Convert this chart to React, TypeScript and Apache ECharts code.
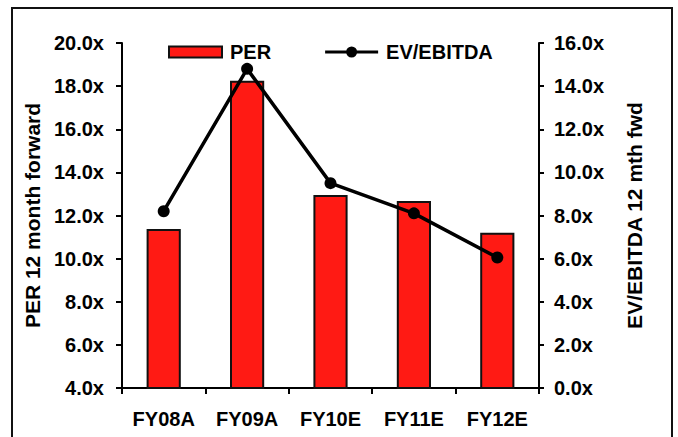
import React, { useEffect, useRef } from "react";
import * as echarts from "echarts";

const categories = ["FY08A", "FY09A", "FY10E", "FY11E", "FY12E"];
const perValues = [11.37, 18.25, 12.95, 12.67, 11.2];
const evEbitdaValues = [8.2, 14.8, 9.5, 8.1, 6.05];

const FONT = "'Liberation Sans', Arial, sans-serif";
const LINE_ICON =
  "path://M0,4L53,4L53,7L0,7Z M21,5.5A5.5,5.5 0 1,1 32,5.5A5.5,5.5 0 1,1 21,5.5Z";

export default function App() {
  const ref = useRef<HTMLDivElement>(null);
  useEffect(() => {
    document.body.style.margin = "0";
    if (!ref.current) return;
    const chart = echarts.init(ref.current, null, { renderer: "svg" });
    const fmt = (v: number) => v.toFixed(1) + "x";
    const labelStyle = {
      color: "#000",
      fontWeight: "bold" as const,
      fontSize: 20,
      fontFamily: FONT,
    };
    chart.setOption({
      animation: false,
      backgroundColor: "#fff",
      textStyle: { fontFamily: FONT },
      graphic: [
        {
          type: "rect",
          shape: { x: 12, y: 8, width: 660, height: 440 },
          style: { fill: "none", stroke: "#111", lineWidth: 2 },
          z: 0,
          silent: true,
        },
      ],
      grid: { left: 122, right: 139, top: 43, bottom: 49 },
      legend: {
        left: 168,
        top: 42,
        padding: 0,
        itemWidth: 53,
        itemHeight: 11,
        itemGap: 54,
        textStyle: {
          color: "#000",
          fontWeight: "bold",
          fontSize: 20,
          fontFamily: FONT,
          padding: [0, 0, 0, 3],
        },
        data: [
          { name: "PER", icon: "rect" },
          { name: "EV/EBITDA", icon: LINE_ICON, itemStyle: { color: "#000", borderWidth: 0 } },
        ],
      },
      xAxis: {
        type: "category",
        data: categories,
        boundaryGap: true,
        axisLine: { lineStyle: { color: "#000", width: 2 } },
        axisTick: { show: true, alignWithLabel: false, length: 6, lineStyle: { color: "#000", width: 2 } },
        axisLabel: { ...labelStyle, margin: 21, interval: 0 },
        splitLine: { show: false },
      },
      yAxis: [
        {
          type: "value",
          min: 4,
          max: 20,
          interval: 2,
          position: "left",
          name: "PER 12 month forward",
          nameLocation: "middle",
          nameRotate: 90,
          nameGap: 78,
          nameTextStyle: { ...labelStyle, fontSize: 21 },
          axisLine: { show: true, lineStyle: { color: "#000", width: 2 } },
          axisTick: { show: true, length: 6, lineStyle: { color: "#000", width: 2 } },
          axisLabel: { ...labelStyle, margin: 18, formatter: fmt },
          splitLine: { show: false },
        },
        {
          type: "value",
          min: 0,
          max: 16,
          interval: 2,
          position: "right",
          name: "EV/EBITDA 12 mth fwd",
          nameLocation: "middle",
          nameRotate: 90,
          nameGap: 85,
          nameTextStyle: { ...labelStyle, fontSize: 21 },
          axisLine: { show: true, lineStyle: { color: "#000", width: 2 } },
          axisTick: { show: true, length: 5, lineStyle: { color: "#000", width: 2 } },
          axisLabel: { ...labelStyle, margin: 15, formatter: fmt },
          splitLine: { show: false },
        },
      ],
      series: [
        {
          name: "PER",
          type: "bar",
          yAxisIndex: 0,
          data: perValues,
          barWidth: "41%",
          itemStyle: { color: "#FF1A14", borderColor: "#111", borderWidth: 2 },
        },
        {
          name: "EV/EBITDA",
          type: "line",
          yAxisIndex: 1,
          data: evEbitdaValues,
          symbol: "circle",
          symbolSize: 12,
          lineStyle: { color: "#000", width: 3.5 },
          itemStyle: { color: "#000" },
          z: 5,
        },
      ],
    });
    return () => chart.dispose();
  }, []);
  return <div ref={ref} style={{ width: 678, height: 437 }} />;
}
